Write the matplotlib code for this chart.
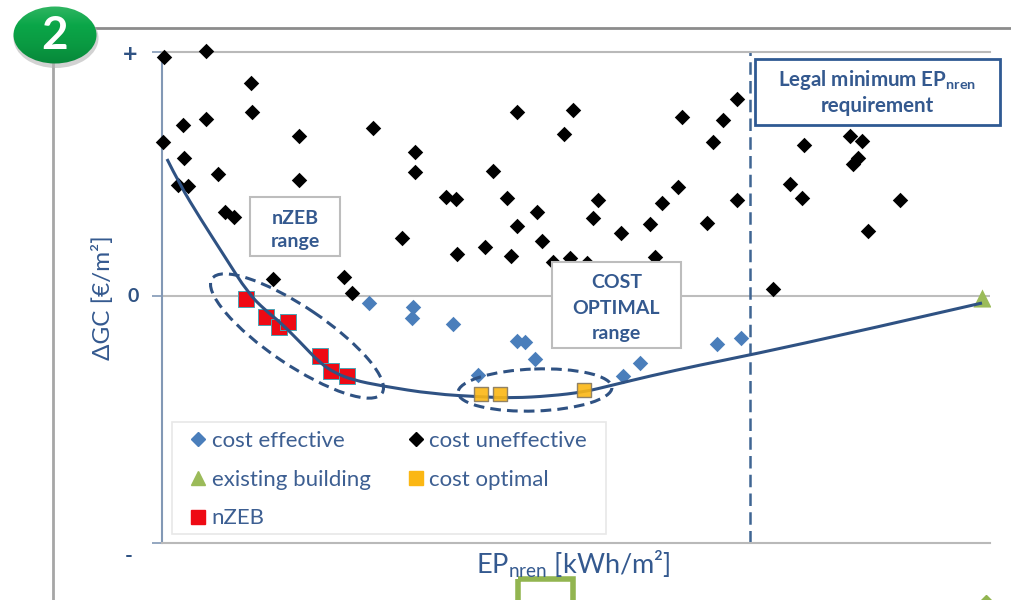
import matplotlib
matplotlib.use('Agg')
from matplotlib import pyplot as plt
from matplotlib.colors import LinearSegmentedColormap
from matplotlib.lines import Line2D
from matplotlib.patches import Ellipse, PathPatch, Rectangle
from matplotlib.path import Path
import numpy as np

plt.rcParams['font.family'] = ['Lato', 'DejaVu Sans']
plt.rcParams['mathtext.default'] = 'regular'

# values (schematic chart, so units are arbitrary)
uneffective_x = [2, 44, 89, 90, 44, 21, 1, 22, 56, 137, 137, 211, 253, 253, 331, 16, 26, 63, 72, 284,
                 294, 240, 295, 323, 111, 182, 190, 355, 411, 402, 520, 561, 575, 551, 642, 688, 700,
                 696, 691, 628, 640, 738, 706, 345, 375, 355, 380, 349, 436, 431, 459, 488, 500, 516,
                 575, 545, 493, 391, 408, 425, 611]
uneffective_y = [239, 245, 213, 184, 177, 171, 154, 138, 122, 160, 116, 168, 144, 124, 125, 111, 110,
                 84, 79, 99, 97, 58, 42, 49, 17, 19, 3, 184, 186, 162, 179, 176, 197, 154, 151, 160,
                 155, 138, 132, 112, 98, 96, 65, 98, 84, 70, 55, 40, 96, 78, 63, 72, 93, 109, 96, 73,
                 39, 34, 38, 33, 7]
effective_x = [207, 251, 250, 291, 316, 355, 363, 373, 461, 478, 555, 579]
effective_y = [-7, -11, -22, -28, -79, -45, -46, -63, -80, -67, -48, -42]
nzeb_x = [84, 104, 117, 126, 158, 169, 185]
nzeb_y = [-3, -21, -31, -26, -60, -75, -80]
optimal_x = [319, 338, 422]
optimal_y = [-98, -98, -94]
existing_x = [820]
existing_y = [-2]
curve_x = [5, 18, 38, 63, 86, 103, 118, 138, 158, 173, 191, 220, 271, 321, 351, 388, 422, 451, 488,
           538, 588, 698, 820]
curve_y = [137, 111, 78, 39, 3, -14, -26, -46, -67, -77, -84, -90, -98, -101, -102, -100, -96, -89,
           -80, -69, -59, -35, -7]
legal_limit = 588

navy = '#2f5283'
text_blue = '#34598f'

fig = plt.figure(figsize=(10.12, 6), dpi=100)

# page decoration, in pixels of the slide
page = fig.add_axes([0, 0, 1, 1])
page.set_xlim(0, 1012)
page.set_ylim(600, 0)
page.axis('off')
page.plot([90, 1012], [28, 28], color='#8c8c8c', lw=2)
page.plot([53, 53], [60, 600], color='#a6a6a6', lw=2)
page.add_patch(Ellipse((56, 38), 85, 60, color='#b5b5b5', alpha=0.6, lw=0, zorder=3))
badge = Ellipse((55, 35), 83, 57, color='none', lw=0)
page.add_patch(badge)
badge_cmap = LinearSegmentedColormap.from_list('badge', ['#2fb562', '#0aa648', '#0a9a42', '#07883a'])
shade = page.imshow(np.linspace(0, 1, 64).reshape(-1, 1), extent=(13, 97, 64, 6), cmap=badge_cmap,
                    aspect='auto', zorder=4)
shade.set_clip_path(badge)
page.set_xlim(0, 1012)
page.set_ylim(600, 0)
page.text(55, 36, '2', color='white', fontsize=33, fontweight='bold', ha='center', va='center', zorder=5)
page.add_patch(Rectangle((518, 579), 55, 30, fill=False, edgecolor='#92b550', lw=4))
page.plot([986], [601], marker='D', color='#92b550', ms=6, clip_on=False)

ax = fig.add_axes([162 / 1012, 1 - 543 / 600, 828 / 1012, 491 / 600])
ax.patch.set_alpha(0)
ax.set_xlim(0, 828)
ax.set_ylim(-247, 244)
for side in ['top', 'bottom']:
    ax.spines[side].set_color('#b9b9b9')
    ax.spines[side].set_linewidth(1.5)
ax.spines['left'].set_color('#8298b5')
ax.spines['left'].set_linewidth(1.5)
ax.spines['right'].set_visible(False)
ax.axhline(0, color='#bdbdbd', lw=1.5, zorder=1)

ax.set_xticks([])
ax.set_yticks([244, 0, -247])
ax.set_yticklabels(['', '', ''])
ax.tick_params(axis='y', length=7, color='#8298b5', width=1.2)
ax.text(-32, 241, '+', color=navy, fontsize=18, fontweight='bold', ha='center', va='center')
ax.text(-29, -1, '0', color=navy, fontsize=14, fontweight='bold', ha='center', va='center')
ax.text(-33, -260, '-', color=navy, fontsize=15, fontweight='bold', ha='center', va='center')

ax.set_ylabel('ΔGC [€/m²]', color=text_blue, fontsize=17.5, labelpad=24)
ax.set_xlabel('EP$_{nren}$ [kWh/m²]', color=text_blue, fontsize=19.5, labelpad=4, x=0.497)

ax.scatter(uneffective_x, uneffective_y, marker='D', s=62, color='black', lw=0, zorder=3, clip_on=False)
ax.scatter(effective_x, effective_y, marker='D', s=62, color='#4a7ebb', lw=0, zorder=3)

# smooth line through the read curve points
pts = list(zip(curve_x, curve_y))
verts = [pts[0]]
codes = [Path.MOVETO]
for i in range(1, len(pts) - 1):
    end = pts[i + 1] if i == len(pts) - 2 else ((pts[i][0] + pts[i + 1][0]) / 2, (pts[i][1] + pts[i + 1][1]) / 2)
    verts += [pts[i], end]
    codes += [Path.CURVE3, Path.CURVE3]
ax.add_patch(PathPatch(Path(verts, codes), fill=False, edgecolor=navy, lw=2.2, zorder=5))

ax.scatter(nzeb_x, nzeb_y, marker='s', s=135, color='#ee0a14', edgecolor='#4aa3b5', lw=0.7, zorder=4)
ax.scatter(optimal_x, optimal_y, marker='s', s=110, color='#fbb714', edgecolor='#857860', lw=1, alpha=0.9, zorder=6)
ax.scatter(existing_x, existing_y, marker='^', s=170, color='#9bbb59', lw=0, zorder=4)
ax.axvline(legal_limit, color='#3f6593', lw=1.8, ls=(0, (5, 2.5)), zorder=2)

# dashed ranges and note boxes go on top of the points
top = fig.add_axes([0, 0, 1, 1])
top.set_xlim(0, 1012)
top.set_ylim(600, 0)
top.axis('off')
top.add_patch(Ellipse((297, 336), 205, 58, angle=34, fill=False, edgecolor=navy, lw=2.2, ls=(0, (3.5, 2))))
top.add_patch(Ellipse((535, 390), 154, 42, angle=-2, fill=False, edgecolor=navy, lw=2.2, ls=(0, (3.5, 2))))


def note(x0, y0, x1, y1, label, edge, lw, size, text_y, spacing):
    top.add_patch(Rectangle((x0, y0), x1 - x0, y1 - y0, facecolor='white', edgecolor=edge, lw=lw, zorder=7))
    top.text((x0 + x1) / 2, text_y, label, color=text_blue, fontsize=size, fontweight='bold',
             ha='center', va='center', linespacing=spacing, zorder=8)


note(250, 197, 340, 256, 'nZEB\nrange', '#bdbdbd', 1.5, 14, 230, 1.5)
note(552, 262, 681, 348, 'COST\nOPTIMAL\nrange', '#bdbdbd', 1.5, 14, 308, 1.58)
note(755, 59, 1000, 125, 'Legal minimum EP$_{nren}$\nrequirement', '#2f5a93', 2, 14.8, 92, 1.22)

top.add_patch(Rectangle((172, 422), 434, 112, facecolor='white', edgecolor='#e8e8e8', lw=1.2, zorder=7))
handles = [
    Line2D([], [], ls='', marker='D', color='#4a7ebb', ms=7),
    Line2D([], [], ls='', marker='^', color='#9bbb59', ms=10.5),
    Line2D([], [], ls='', marker='s', color='#ee0a14', ms=10),
    Line2D([], [], ls='', marker='D', color='black', ms=7),
    Line2D([], [], ls='', marker='s', color='#fbb714', ms=10),
]
labels = ['cost effective', 'existing building', 'nZEB', 'cost uneffective', 'cost optimal']
leg = top.legend(handles, labels, ncol=2, loc='upper left', bbox_to_anchor=(185 / 1012, 1 - 431 / 600),
                 bbox_transform=fig.transFigure, borderaxespad=0, fontsize=16, labelcolor='#3d5f92',
                 frameon=False, handletextpad=0, columnspacing=1.45, labelspacing=0.84, borderpad=0,
                 handlelength=1.2)
leg.set_zorder(8)

fig.savefig('out.png', dpi=100)
